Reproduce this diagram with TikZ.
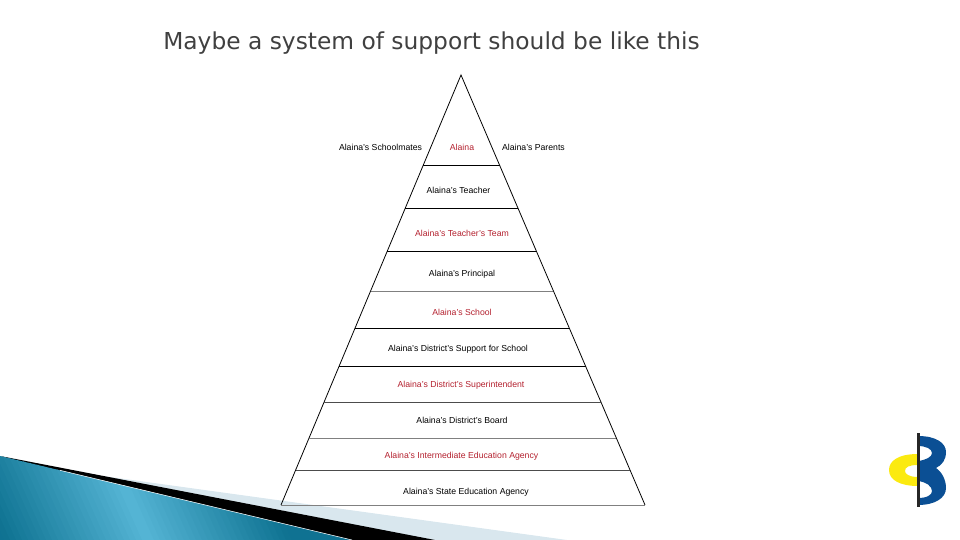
\documentclass[tikz,border=0pt]{standalone}
\usepackage{fontspec}
\setmainfont{Liberation Sans}
\newfontfamily\titlefont{DejaVu Sans}
\usetikzlibrary{calc}
\definecolor{labelred}{HTML}{B3202E}
\definecolor{titlegray}{HTML}{404040}
\definecolor{palestrip}{HTML}{D9E7EE}
\definecolor{tealdark}{HTML}{0B6F8E}
\definecolor{teallight}{HTML}{55B5D5}
\definecolor{logoblue}{HTML}{0B4F94}
\definecolor{logoyellow}{HTML}{FBEA10}
\tikzset{
  level/.style={font=\fontsize{4.95pt}{6pt}\selectfont,inner sep=0pt,text=black},
  redlevel/.style={level,text=labelred},
  rung/.style={line width=0.5pt}
}
\begin{document}
\begin{tikzpicture}[x=0.02cm,y=-0.02cm]
\useasboundingbox (0,0) rectangle (960,540);

% swoosh, bottom left
\fill[palestrip] (103,476) -- (567,540) -- (300,540) -- cycle;
\fill[black] (0,456) -- (435,540) -- (300,540) -- cycle;
\begin{scope}
\clip (0,456) -- (352,540) -- (0,540) -- cycle;
\foreach \x in {-72,-66,...,360}{
  \pgfmathtruncatemacro\mix{100*max(0.05,1-abs(\x-105)/150)}
  \fill[teallight!\mix!tealdark] (\x,450) -- (\x+7,450) -- (\x+47,540) -- (\x+40,540) -- cycle;
}
\end{scope}
\draw[white,line width=0.3pt] (60,470.3) -- (352,540);

\node[font=\titlefont\fontsize{13.28pt}{16pt}\selectfont,text=titlegray,inner sep=0pt] (title) at (431.5,43.5) {Maybe a system of support should be like this};

% pyramid
\coordinate (apex) at (461,75);
\coordinate (baseL) at (281,505);
\coordinate (baseR) at (645,505);
\draw[line width=0.45pt] (baseL) -- (apex) -- (baseR);
\foreach \y/\c in {165/black,208/black,251/black,291/gray,328/black,366/black,402/black!70,438/gray,470/black!70,505/gray}
  \draw[rung,\c] ($(apex)!{(\y-75)/430}!(baseL)$) -- ($(apex)!{(\y-75)/430}!(baseR)$);

\node[level] (mates) at (380.5,147.5) {Alaina's Schoolmates};
\node[redlevel] (alaina) at (462,147.5) {Alaina};
\node[level] (parents) at (533.5,147.5) {Alaina's Parents};
\node[level] (teacher) at (458.5,190.5) {Alaina's Teacher};
\node[redlevel] (team) at (462,233.5) {Alaina's Teacher's Team};
\node[level] (principal) at (462,274) {Alaina's Principal};
\node[redlevel] (school) at (462,312.5) {Alaina's School};
\node[level] (support) at (458,349) {Alaina's District's Support for School};
\node[redlevel] (super) at (461,385) {Alaina's District's Superintendent};
\node[level] (board) at (462,420.5) {Alaina's District's Board};
\node[redlevel] (iea) at (461.5,456) {Alaina's Intermediate Education Agency};
\node[level] (sea) at (466,492) {Alaina's State Education Agency};

% logo
\fill[logoyellow] (918,454) .. controls (898,454) and (889,461) .. (889,470) .. controls (889,480) and (900,486) .. (918,486) -- (918,477) .. controls (909,477) and (905,474) .. (905,471) .. controls (905,467) and (909,465) .. (918,465) -- cycle;
\fill[logoblue] (918,436) .. controls (936,436) and (946,443) .. (946,452) .. controls (946,460) and (942,465) .. (936,468) .. controls (942,472) and (946,480) .. (946,488) .. controls (946,498) and (935,505) .. (918,505) -- (918,498) .. controls (927,498) and (932,495) .. (932,491) .. controls (932,486) and (926,482) .. (918,481) -- (918,461) .. controls (926,460) and (932,457) .. (932,453) .. controls (932,449) and (926,446) .. (918,446) -- cycle;
\fill[black!85] (917,433) rectangle (920,507);
\end{tikzpicture}
\end{document}
